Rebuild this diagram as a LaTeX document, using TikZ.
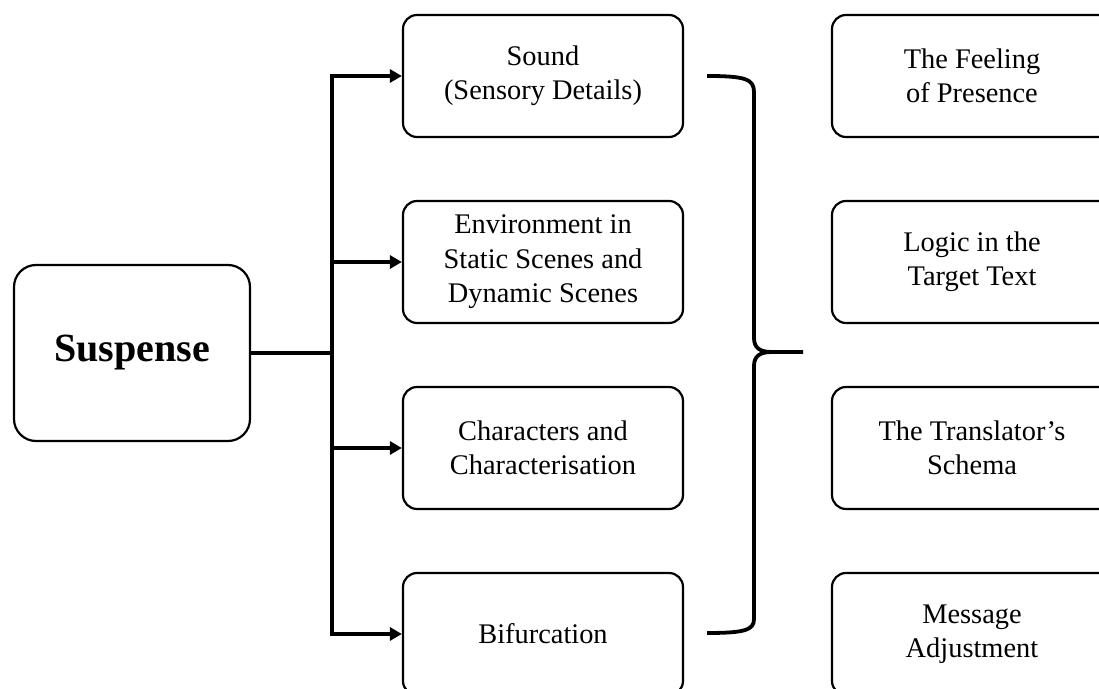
\documentclass[tikz,border=0pt]{standalone}
\usepackage{fontspec}
\setmainfont{Liberation Serif}
\usetikzlibrary{arrows.meta, positioning}

\begin{document}
\begin{tikzpicture}[x=0.5pt, y=-0.5pt,
	every node/.style={font=\fontsize{14.2}{17.2}\selectfont},
	box/.style={draw, line width=1.1pt, rounded corners=7pt, minimum width=140pt, minimum height=61pt, align=center, inner sep=2pt},
	link/.style={line width=1.9pt},
	conn/.style={link, -{Triangle[length=6pt,width=6.5pt]}}]
			\useasboundingbox (0,0) rectangle (1099,689);
			\clip (0,0) rectangle (1099,689);
			
			% Ausgangsknoten (Suspense)
			\node[box, rounded corners=11pt, minimum width=118pt, minimum height=88pt, font=\fontsize{20}{24}\selectfont\bfseries] (susp) at (132,353) {Suspense};
			
			% Mittlere Spalte
			\node[box] (sound) at (543,76) {Sound\\(Sensory Details)};
			\node[box] (env) at (543,262) {Environment in\\Static Scenes and\\Dynamic Scenes};
			\node[box] (chars) at (543,448) {Characters and\\Characterisation};
			\node[box] (bif) at (543,634) {Bifurcation};
			
			% Rechte Spalte
			\node[box] (feel) at (972,76) {The Feeling\\of Presence};
			\node[box] (logic) at (972,262) {Logic in the\\Target Text};
			\node[box] (schema) at (972,448) {The Translator’s\\Schema};
			\node[box] (adjust) at (972,634) {Message\\Adjustment};
			
			% Verzweigung
			\coordinate (split) at (332,353);
			\draw[link] (susp.east) -- (split);
			\foreach \n in {sound,env,chars,bif}
				\draw[conn] (split) |- (\n.west);
			
			% Geschweifte Klammer
			\draw[link] (707,76) .. controls (745,76) and (754,79) .. (754,92) -- (754,338) .. controls (754,348) and (760,352) .. (772,352) -- (803,352);
			\draw[link] (772,352) .. controls (760,352) and (754,356) .. (754,366) -- (754,619) .. controls (754,630) and (745,633) .. (707,633);
		\end{tikzpicture}
\end{document}
